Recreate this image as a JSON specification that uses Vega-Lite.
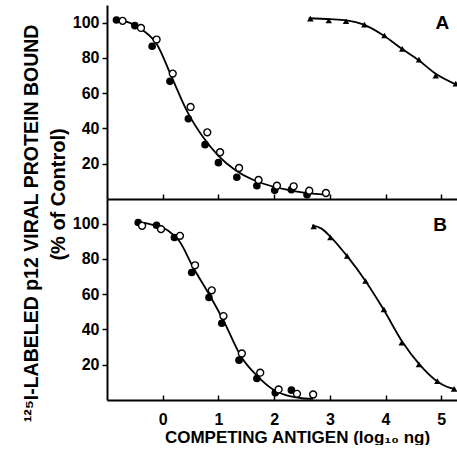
{
  "$schema": "https://vega.github.io/schema/vega-lite/v6.json",
  "autosize": {"type": "pad"},
  "padding": {"left": 20, "top": 5, "right": 0, "bottom": 0},
  "background": "white",
  "bounds": "flush",
  "spacing": 0,
  "config": {
    "view": {"stroke": null},
    "font": "Liberation Sans",
    "axis": {
      "grid": false,
      "domainColor": "black",
      "domainWidth": 2,
      "tickColor": "black",
      "tickWidth": 1.5,
      "labelColor": "black",
      "titleColor": "black",
      "labelFont": "Liberation Sans",
      "titleFont": "Liberation Sans",
      "labelFontWeight": "bold",
      "titleFontWeight": "bold",
      "labelFontSize": 16,
      "titleFontSize": 16
    }
  },
  "datasets": {
    "pts": [
      {"panel": "A", "series": "filled", "x": -0.83, "y": 101.5},
      {"panel": "A", "series": "filled", "x": -0.5, "y": 98.3},
      {"panel": "A", "series": "filled", "x": -0.19, "y": 86.6},
      {"panel": "A", "series": "filled", "x": 0.13, "y": 66.7},
      {"panel": "A", "series": "filled", "x": 0.46, "y": 45.5},
      {"panel": "A", "series": "filled", "x": 0.76, "y": 30.8},
      {"panel": "A", "series": "filled", "x": 1.0, "y": 20.6},
      {"panel": "A", "series": "filled", "x": 1.33, "y": 12.3},
      {"panel": "A", "series": "filled", "x": 1.69, "y": 7.5},
      {"panel": "A", "series": "filled", "x": 2.01, "y": 4.9},
      {"panel": "A", "series": "filled", "x": 2.31, "y": 5.3},
      {"panel": "A", "series": "filled", "x": 2.59, "y": 2.4},
      {"panel": "A", "series": "open", "x": -0.72, "y": 101},
      {"panel": "A", "series": "open", "x": -0.39, "y": 97},
      {"panel": "A", "series": "open", "x": -0.11, "y": 90.4},
      {"panel": "A", "series": "open", "x": 0.18, "y": 71.1},
      {"panel": "A", "series": "open", "x": 0.5, "y": 52.2},
      {"panel": "A", "series": "open", "x": 0.8, "y": 37.8},
      {"panel": "A", "series": "open", "x": 1.03, "y": 26.5},
      {"panel": "A", "series": "open", "x": 1.37, "y": 17.6},
      {"panel": "A", "series": "open", "x": 1.72, "y": 10.8},
      {"panel": "A", "series": "open", "x": 2.05, "y": 7.5},
      {"panel": "A", "series": "open", "x": 2.35, "y": 7.2},
      {"panel": "A", "series": "open", "x": 2.63, "y": 4.7},
      {"panel": "A", "series": "open", "x": 2.93, "y": 3.4},
      {"panel": "A", "series": "tri", "x": 2.65, "y": 102.3},
      {"panel": "A", "series": "tri", "x": 2.98, "y": 101.2},
      {"panel": "A", "series": "tri", "x": 3.29, "y": 100.8},
      {"panel": "A", "series": "tri", "x": 3.62, "y": 98.9},
      {"panel": "A", "series": "tri", "x": 3.98, "y": 92.7},
      {"panel": "A", "series": "tri", "x": 4.3, "y": 85.1},
      {"panel": "A", "series": "tri", "x": 4.6, "y": 79},
      {"panel": "A", "series": "tri", "x": 4.9, "y": 69.9},
      {"panel": "A", "series": "tri", "x": 5.26, "y": 65.4},
      {"panel": "A", "series": "fitC", "x": -0.85, "y": 101.5},
      {"panel": "A", "series": "fitC", "x": -0.6, "y": 100},
      {"panel": "A", "series": "fitC", "x": -0.35, "y": 95.5},
      {"panel": "A", "series": "fitC", "x": -0.1, "y": 87.5},
      {"panel": "A", "series": "fitC", "x": 0.15, "y": 70},
      {"panel": "A", "series": "fitC", "x": 0.45, "y": 49},
      {"panel": "A", "series": "fitC", "x": 0.75, "y": 34},
      {"panel": "A", "series": "fitC", "x": 1.0, "y": 24.5},
      {"panel": "A", "series": "fitC", "x": 1.3, "y": 16.5},
      {"panel": "A", "series": "fitC", "x": 1.6, "y": 11.2},
      {"panel": "A", "series": "fitC", "x": 1.9, "y": 7.8},
      {"panel": "A", "series": "fitC", "x": 2.2, "y": 5.5},
      {"panel": "A", "series": "fitC", "x": 2.5, "y": 3.8},
      {"panel": "A", "series": "fitC", "x": 2.8, "y": 2.8},
      {"panel": "A", "series": "fitC", "x": 2.95, "y": 2.5},
      {"panel": "A", "series": "fitT", "x": 2.62, "y": 102.5},
      {"panel": "A", "series": "fitT", "x": 3.0, "y": 102},
      {"panel": "A", "series": "fitT", "x": 3.3, "y": 101.3},
      {"panel": "A", "series": "fitT", "x": 3.6, "y": 99},
      {"panel": "A", "series": "fitT", "x": 3.95, "y": 93},
      {"panel": "A", "series": "fitT", "x": 4.3, "y": 85},
      {"panel": "A", "series": "fitT", "x": 4.6, "y": 78.5},
      {"panel": "A", "series": "fitT", "x": 4.9, "y": 71},
      {"panel": "A", "series": "fitT", "x": 5.26, "y": 65},
      {"panel": "A", "series": "label", "x": 5.02, "y": 100, "label": "A"},
      {"panel": "B", "series": "filled", "x": -0.44, "y": 100.7},
      {"panel": "B", "series": "filled", "x": -0.11, "y": 99.1},
      {"panel": "B", "series": "filled", "x": 0.21, "y": 92.2},
      {"panel": "B", "series": "filled", "x": 0.52, "y": 72.3},
      {"panel": "B", "series": "filled", "x": 0.83, "y": 58.1},
      {"panel": "B", "series": "filled", "x": 1.06, "y": 43.5},
      {"panel": "B", "series": "filled", "x": 1.37, "y": 22.6},
      {"panel": "B", "series": "filled", "x": 1.69, "y": 12.2},
      {"panel": "B", "series": "filled", "x": 2.02, "y": 4.1},
      {"panel": "B", "series": "filled", "x": 2.31, "y": 5.6},
      {"panel": "B", "series": "open", "x": -0.37, "y": 98.8},
      {"panel": "B", "series": "open", "x": -0.03, "y": 96.9},
      {"panel": "B", "series": "open", "x": 0.31, "y": 93.1},
      {"panel": "B", "series": "open", "x": 0.58, "y": 76.4},
      {"panel": "B", "series": "open", "x": 0.88, "y": 62.2},
      {"panel": "B", "series": "open", "x": 1.09, "y": 47.6},
      {"panel": "B", "series": "open", "x": 1.42, "y": 26.4},
      {"panel": "B", "series": "open", "x": 1.75, "y": 15.5},
      {"panel": "B", "series": "open", "x": 2.08, "y": 6.0},
      {"panel": "B", "series": "open", "x": 2.41, "y": 3.5},
      {"panel": "B", "series": "open", "x": 2.7, "y": 3.1},
      {"panel": "B", "series": "tri", "x": 2.71, "y": 98.4},
      {"panel": "B", "series": "tri", "x": 3.01, "y": 92.2},
      {"panel": "B", "series": "tri", "x": 3.31, "y": 81.7},
      {"panel": "B", "series": "tri", "x": 3.64, "y": 67.5},
      {"panel": "B", "series": "tri", "x": 3.97, "y": 51.4},
      {"panel": "B", "series": "tri", "x": 4.29, "y": 32.5},
      {"panel": "B", "series": "tri", "x": 4.6, "y": 20.2},
      {"panel": "B", "series": "tri", "x": 4.93, "y": 10.7},
      {"panel": "B", "series": "tri", "x": 5.23, "y": 6.3},
      {"panel": "B", "series": "fitC", "x": -0.45, "y": 101},
      {"panel": "B", "series": "fitC", "x": -0.2, "y": 99.5},
      {"panel": "B", "series": "fitC", "x": 0.1, "y": 96},
      {"panel": "B", "series": "fitC", "x": 0.3, "y": 90},
      {"panel": "B", "series": "fitC", "x": 0.55, "y": 75},
      {"panel": "B", "series": "fitC", "x": 0.85, "y": 59},
      {"panel": "B", "series": "fitC", "x": 1.1, "y": 44.5},
      {"panel": "B", "series": "fitC", "x": 1.4, "y": 25},
      {"panel": "B", "series": "fitC", "x": 1.7, "y": 13.5},
      {"panel": "B", "series": "fitC", "x": 2.0, "y": 5.5},
      {"panel": "B", "series": "fitC", "x": 2.3, "y": 2},
      {"panel": "B", "series": "fitC", "x": 2.5, "y": 1},
      {"panel": "B", "series": "fitC", "x": 2.7, "y": 0.7},
      {"panel": "B", "series": "fitT", "x": 2.68, "y": 99},
      {"panel": "B", "series": "fitT", "x": 2.85, "y": 97.2},
      {"panel": "B", "series": "fitT", "x": 3.0, "y": 93},
      {"panel": "B", "series": "fitT", "x": 3.3, "y": 82},
      {"panel": "B", "series": "fitT", "x": 3.64, "y": 67.5},
      {"panel": "B", "series": "fitT", "x": 3.97, "y": 51},
      {"panel": "B", "series": "fitT", "x": 4.3, "y": 33},
      {"panel": "B", "series": "fitT", "x": 4.6, "y": 20.5},
      {"panel": "B", "series": "fitT", "x": 4.93, "y": 10.5},
      {"panel": "B", "series": "fitT", "x": 5.1, "y": 7.5},
      {"panel": "B", "series": "fitT", "x": 5.25, "y": 6.2},
      {"panel": "B", "series": "label", "x": 4.98, "y": 99.3, "label": "B"}
    ]
  },
  "vconcat": [
    {
      "width": 351,
      "height": 194,
      "data": {"name": "pts"},
      "transform": [{"filter": "datum.panel === 'A'"}],
      "encoding": {
        "x": {
          "field": "x", "type": "quantitative",
          "scale": {"domain": [-1, 5.3], "nice": false, "zero": false},
          "axis": {"values": [0, 1, 2, 3, 4, 5], "labels": false, "title": null, "tickSize": -5}
        },
        "y": {
          "field": "y", "type": "quantitative",
          "scale": {"domain": [0, 110], "nice": false},
          "axis": {
            "values": [20, 40, 60, 80, 100], "tickSize": 5, "labelPadding": 3,
            "title": "¹²⁵I-LABELED p12  VIRAL PROTEIN BOUND",
            "titleFontSize": 19.5,
            "titleAngle": 270, "titleX": -70, "titleY": 218,
            "titleAlign": "center", "titleBaseline": "alphabetic"
          }
        }
      },
      "layer": [
        {
          "transform": [{"filter": "datum.series === 'fitC' || datum.series === 'fitT'"}],
          "mark": {"type": "line", "interpolate": "monotone", "color": "black", "strokeWidth": 1.8},
          "encoding": {"detail": {"field": "series"}}
        },
        {
          "transform": [{"filter": "datum.series === 'filled'"}],
          "mark": {"type": "point", "shape": "circle", "filled": true, "color": "black", "size": 58, "opacity": 1}
        },
        {
          "transform": [{"filter": "datum.series === 'open'"}],
          "mark": {"type": "point", "shape": "circle", "fill": "white", "stroke": "black", "strokeWidth": 1.4, "size": 48, "opacity": 1, "fillOpacity": 1}
        },
        {
          "transform": [{"filter": "datum.series === 'tri'"}],
          "mark": {"type": "point", "shape": "triangle-up", "filled": true, "color": "black", "size": 42, "opacity": 1}
        },
        {
          "transform": [{"filter": "datum.series === 'label'"}],
          "mark": {"type": "text", "font": "Liberation Sans", "fontWeight": "bold", "fontSize": 19, "align": "center", "baseline": "middle", "color": "black"},
          "encoding": {"text": {"field": "label"}}
        }
      ]
    },
    {
      "width": 351,
      "height": 201,
      "data": {"name": "pts"},
      "transform": [{"filter": "datum.panel === 'B'"}],
      "encoding": {
        "x": {
          "field": "x", "type": "quantitative",
          "scale": {"domain": [-1, 5.3], "nice": false, "zero": false},
          "axis": {
            "values": [0, 1, 2, 3, 4, 5], "tickSize": -5, "labelPadding": 16,
            "title": "COMPETING ANTIGEN (log₁₀ ng)",
            "titleFontSize": 17,
            "titleX": 190, "titleY": 42, "titleBaseline": "alphabetic"
          }
        },
        "y": {
          "field": "y", "type": "quantitative",
          "scale": {"domain": [0, 114], "nice": false},
          "axis": {
            "values": [20, 40, 60, 80, 100], "tickSize": 5, "labelPadding": 3,
            "title": "(% of Control)",
            "titleFontSize": 20,
            "titleLimit": 400,
            "titleAngle": 270, "titleX": -43, "titleY": -5,
            "titleAlign": "center", "titleBaseline": "alphabetic"
          }
        }
      },
      "layer": [
        {
          "transform": [{"filter": "datum.series === 'fitC' || datum.series === 'fitT'"}],
          "mark": {"type": "line", "interpolate": "monotone", "color": "black", "strokeWidth": 1.8},
          "encoding": {"detail": {"field": "series"}}
        },
        {
          "transform": [{"filter": "datum.series === 'filled'"}],
          "mark": {"type": "point", "shape": "circle", "filled": true, "color": "black", "size": 58, "opacity": 1}
        },
        {
          "transform": [{"filter": "datum.series === 'open'"}],
          "mark": {"type": "point", "shape": "circle", "fill": "white", "stroke": "black", "strokeWidth": 1.4, "size": 48, "opacity": 1, "fillOpacity": 1}
        },
        {
          "transform": [{"filter": "datum.series === 'tri'"}],
          "mark": {"type": "point", "shape": "triangle-up", "filled": true, "color": "black", "size": 42, "opacity": 1}
        },
        {
          "transform": [{"filter": "datum.series === 'label'"}],
          "mark": {"type": "text", "font": "Liberation Sans", "fontWeight": "bold", "fontSize": 19, "align": "center", "baseline": "middle", "color": "black"},
          "encoding": {"text": {"field": "label"}}
        }
      ]
    }
  ]
}
